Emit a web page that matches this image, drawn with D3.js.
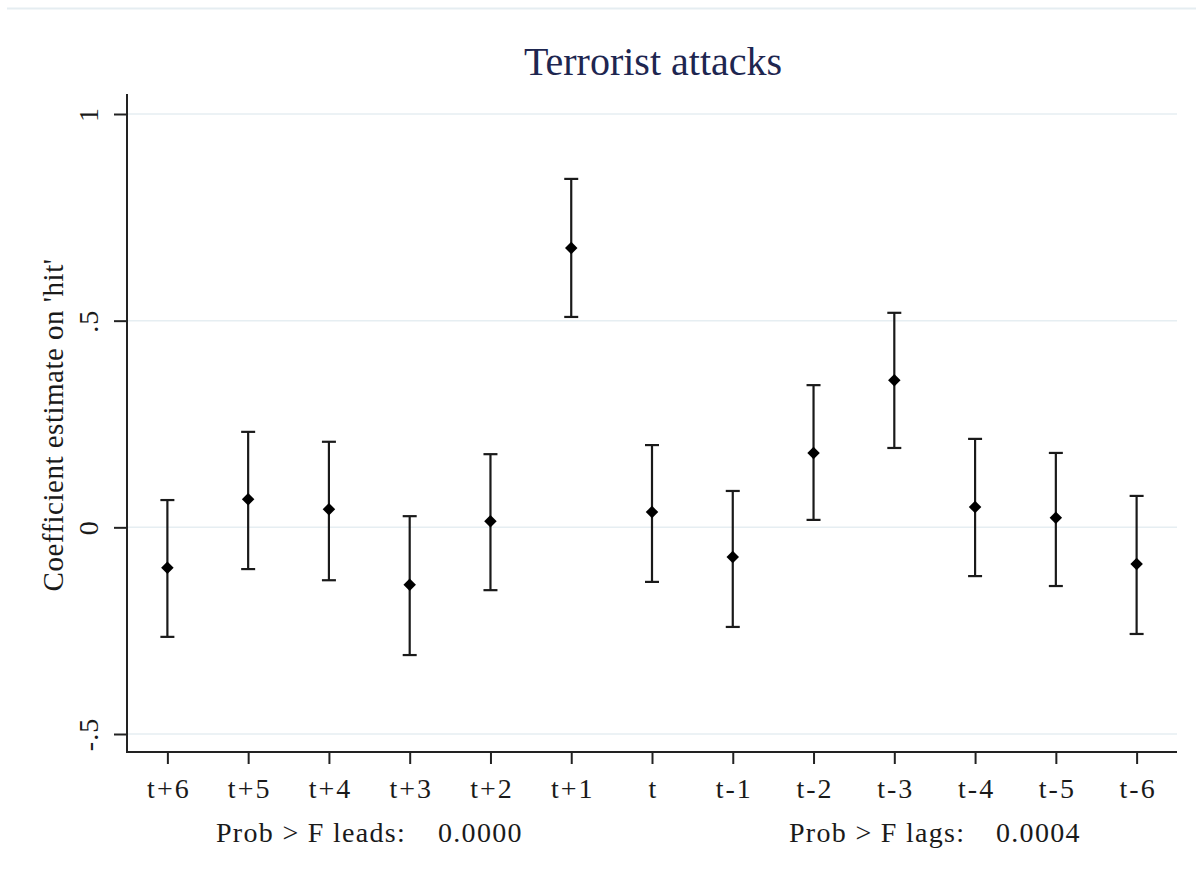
<!DOCTYPE html>
<html>
<head>
<meta charset="utf-8">
<script src="https://cdn.jsdelivr.net/npm/d3@7"></script>
<style>
  html, body { margin: 0; padding: 0; background: #ffffff; }
  svg { display: block; }
  text { font-family: "Liberation Serif", "Times New Roman", serif; }
</style>
</head>
<body>
<div id="chart"></div>
<script>
// ---- data ----
const categories = ["t+6","t+5","t+4","t+3","t+2","t+1","t","t-1","t-2","t-3","t-4","t-5","t-6"];
const estimates  = [-0.098, 0.068, 0.044, -0.139, 0.015, 0.676, 0.037, -0.072, 0.180, 0.356, 0.049, 0.023, -0.089];
const upperCI    = [0.066, 0.231, 0.207, 0.027, 0.177, 0.843, 0.199, 0.088, 0.344, 0.519, 0.214, 0.180, 0.076];
const lowerCI    = [-0.265, -0.101, -0.128, -0.309, -0.152, 0.509, -0.132, -0.241, 0.018, 0.192, -0.118, -0.142, -0.258];
const yTicks     = [-0.5, 0, 0.5, 1];
const yTickLabels = ["-.5", "0", ".5", "1"];
const titleText  = "Terrorist attacks";
const yTitle     = "Coefficient estimate on 'hit'";
const footLeads  = ["Prob > F leads:", "0.0000"];
const footLags   = ["Prob > F lags:", "0.0004"];

// ---- layout ----
const W = 1203, H = 880;
const plot = { left: 127, right: 1177, top: 94, bottom: 752 };

const svg = d3.select("#chart").append("svg").attr("width", W).attr("height", H);

const x = d3.scaleLinear().domain([0.5, categories.length + 0.5]).range([plot.left, plot.right]);
const y = d3.scaleLinear().domain([-0.5, 1]).range([734, 114]);

// top faint border line
svg.append("line").attr("x1", 7).attr("x2", 1196).attr("y1", 8.5).attr("y2", 8.5)
  .attr("stroke", "#e5edf1").attr("stroke-width", 2);

// gridlines
svg.append("g").selectAll("line").data(yTicks).join("line")
  .attr("x1", plot.left).attr("x2", plot.right)
  .attr("y1", d => y(d)).attr("y2", d => y(d))
  .attr("stroke", "#e6eef2").attr("stroke-width", 1.5);

// y axis
const yAxis = d3.axisLeft(y).tickValues(yTicks).tickSize(13).tickPadding(0)
  .tickFormat((d, i) => yTickLabels[i]);
const gy = svg.append("g").attr("transform", `translate(${plot.left},0)`).call(yAxis);
gy.select(".domain").remove();
gy.selectAll(".tick line").attr("stroke", "#222").attr("stroke-width", 2);
gy.selectAll(".tick text")
  .attr("x", null).attr("dy", null)
  .attr("transform", "translate(-29,0) rotate(-90)")
  .attr("text-anchor", "middle")
  .attr("font-size", 28).attr("fill", "#1a1a1a")
  .style("letter-spacing", "1px")
  .style("font-family", '"Liberation Serif", serif');
svg.append("line").attr("x1", plot.left).attr("x2", plot.left)
  .attr("y1", plot.top).attr("y2", plot.bottom + 1)
  .attr("stroke", "#222").attr("stroke-width", 2);

// x axis
const xAxis = d3.axisBottom(x).tickValues(d3.range(1, categories.length + 1))
  .tickSize(12).tickPadding(14).tickFormat(d => categories[d - 1]);
const gx = svg.append("g").attr("transform", `translate(0,${plot.bottom})`).call(xAxis);
gx.select(".domain").remove();
gx.selectAll(".tick line").attr("stroke", "#222").attr("stroke-width", 2);
gx.selectAll(".tick text")
  .attr("dy", null).attr("y", 46).attr("dx", 1)
  .attr("font-size", 28).attr("fill", "#1a1a1a")
  .style("letter-spacing", "2px")
  .style("font-family", '"Liberation Serif", serif');
svg.append("line").attr("x1", plot.left - 1).attr("x2", plot.right)
  .attr("y1", plot.bottom).attr("y2", plot.bottom)
  .attr("stroke", "#222").attr("stroke-width", 2);

// error bars
const rows = categories.map((c, i) => ({ c, i: i + 1, est: estimates[i], hi: upperCI[i], lo: lowerCI[i] }));
const eb = svg.append("g").attr("stroke", "#1a1a1a").attr("stroke-width", 2.2).attr("fill", "none");
eb.selectAll("line.v").data(rows).join("line").attr("class", "v")
  .attr("x1", d => x(d.i)).attr("x2", d => x(d.i))
  .attr("y1", d => y(d.hi)).attr("y2", d => y(d.lo));
eb.selectAll("line.cap-hi").data(rows).join("line").attr("class", "cap-hi")
  .attr("x1", d => x(d.i) - 7).attr("x2", d => x(d.i) + 7)
  .attr("y1", d => y(d.hi)).attr("y2", d => y(d.hi));
eb.selectAll("line.cap-lo").data(rows).join("line").attr("class", "cap-lo")
  .attr("x1", d => x(d.i) - 7).attr("x2", d => x(d.i) + 7)
  .attr("y1", d => y(d.lo)).attr("y2", d => y(d.lo));

// point markers (diamonds)
const sym = d3.symbol().type(d3.symbolSquare).size(78);
svg.append("g").selectAll("path").data(rows).join("path")
  .attr("d", sym)
  .attr("transform", d => `translate(${x(d.i)},${y(d.est)}) rotate(45)`)
  .attr("fill", "#000");

// title
svg.append("text").attr("x", 653).attr("y", 75).attr("text-anchor", "middle")
  .attr("font-size", 40).attr("fill", "#1e2650").text(titleText);

// y title
svg.append("text").attr("transform", `translate(63,${(plot.top + plot.bottom) / 2 + 2}) rotate(-90)`)
  .attr("text-anchor", "middle").attr("font-size", 29).attr("fill", "#1a1a1a")
  .style("letter-spacing", "0.5px").text(yTitle);

// footnotes
const fy = 842;
const foot = svg.append("g").attr("font-size", 28).attr("fill", "#1a1a1a").style("letter-spacing", "1.3px");
foot.append("text").attr("x", 216).attr("y", fy).text(footLeads[0]);
foot.append("text").attr("x", 438).attr("y", fy).text(footLeads[1]);
foot.append("text").attr("x", 789).attr("y", fy).text(footLags[0]);
foot.append("text").attr("x", 996).attr("y", fy).text(footLags[1]);
</script>
</body>
</html>
